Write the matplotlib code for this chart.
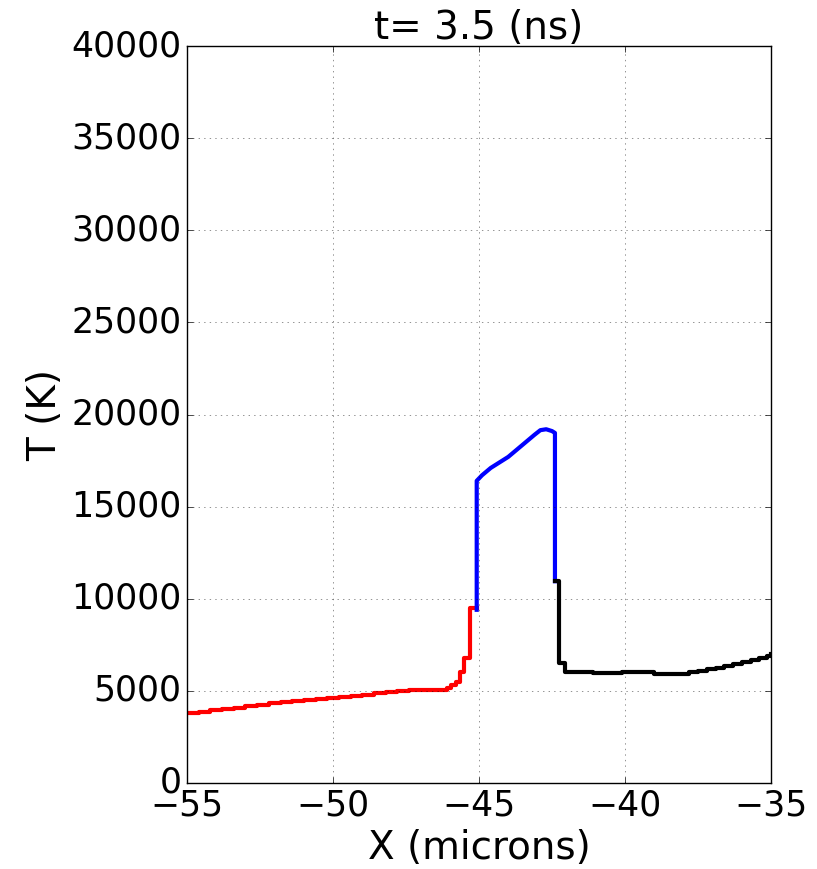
import matplotlib
matplotlib.use('Agg')
import matplotlib.pyplot as plt

# temperature profile segments (x in microns, T in K)
red_x = [-55, -54.6, -54.2, -53.8, -53.4, -53, -52.6, -52.2, -51.8, -51.4, -51, -50.6,
         -50.2, -49.8, -49.4, -49, -48.6, -48.2, -47.8, -47.4, -47, -46.6, -46.3, -46.1,
         -45.95, -45.8, -45.65, -45.5, -45.3, -45.08]
red_y = [3800, 3870, 3940, 4010, 4090, 4170, 4250, 4320, 4390, 4450, 4520, 4580,
         4630, 4680, 4730, 4800, 4870, 4940, 4990, 5030, 5050, 5050, 5050, 5150,
         5300, 5500, 6000, 6800, 9500, 9500]

blue_x = [-45.08, -45.08, -44.9, -44.6, -44.3, -44.0, -43.7, -43.4, -43.1, -42.9, -42.7,
          -42.5, -42.4, -42.4]
blue_y = [9400, 16400, 16700, 17100, 17400, 17700, 18100, 18500, 18900, 19150, 19200,
          19100, 19000, 10950]

black_x = [-42.4, -42.25, -42.25, -42.05, -42.05, -41.1, -40.3, -40.1, -39.0, -37.8,
           -37.5, -37.2, -36.9, -36.6, -36.3, -36.0, -35.7, -35.4, -35.15, -35]
black_y = [10950, 10950, 6500, 6500, 6000, 5950, 5950, 6050, 5900, 6000,
           6080, 6170, 6260, 6360, 6460, 6580, 6680, 6760, 6880, 7000]

plt.style.use('classic')
fig = plt.figure(figsize=(8.17, 8.69), dpi=100, facecolor='white')
ax = fig.add_axes([0.229, 0.099, 0.7147, 0.848])

ax.plot(red_x, red_y, color='red', lw=3, drawstyle='steps-post')
ax.plot(blue_x, blue_y, color='blue', lw=3)
ax.plot(black_x, black_y, color='black', lw=3, drawstyle='steps-post')

ax.set_xlim(-55, -35)
ax.set_ylim(0, 40000)
ax.set_xticks([-55, -50, -45, -40, -35])
ax.set_yticks(range(0, 40001, 5000))
ax.grid(True, linestyle=':', color='black', alpha=0.6)
ax.tick_params(labelsize=25)
ax.set_xlabel('X (microns)', fontsize=28)
ax.set_ylabel('T (K)', fontsize=28)
ax.set_title('t= 3.5 (ns)', fontsize=28)

plt.savefig('out.png', dpi=100, facecolor='white')
